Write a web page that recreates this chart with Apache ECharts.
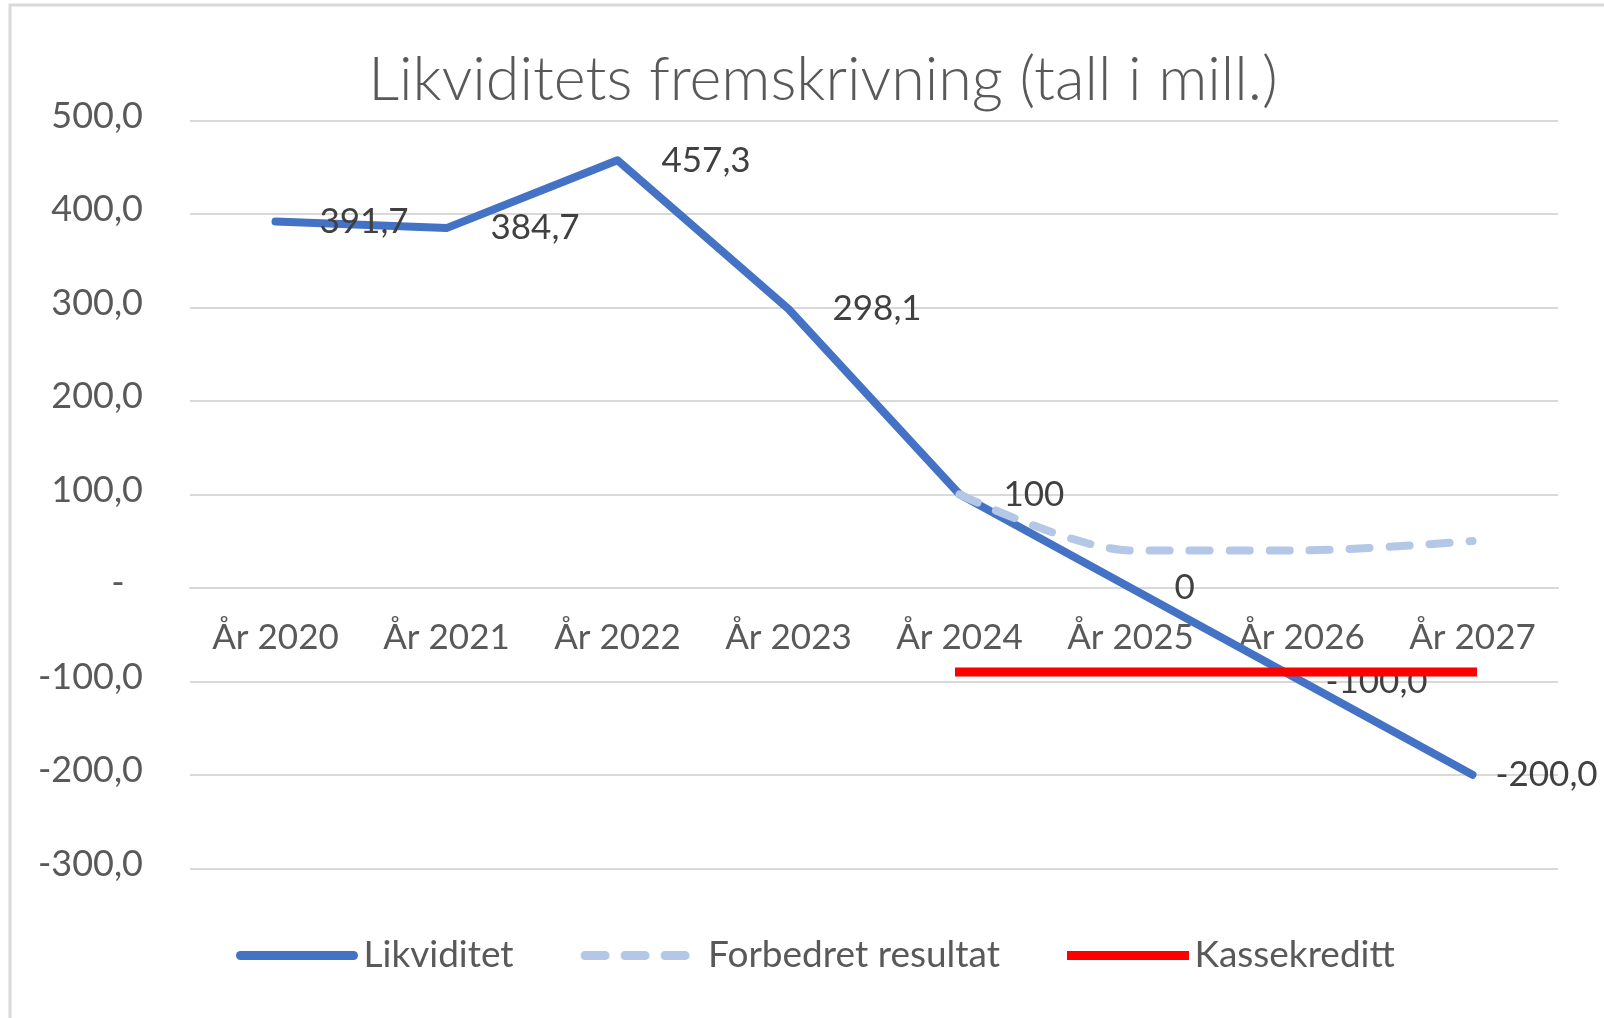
<!DOCTYPE html>
<html>
<head>
<meta charset="utf-8">
<script src="https://cdn.jsdelivr.net/npm/echarts@6/dist/echarts.min.js"></script>
<style>
  html, body { margin: 0; padding: 0; background: #ffffff; }
  #chart { width: 1604px; height: 1018px; }
</style>
</head>
<body>
<div id="chart"></div>
<script>
// ---- Data ----
const titleText = 'Likviditets fremskrivning (tall i mill.)';
const categories = ['År 2020', 'År 2021', 'År 2022', 'År 2023', 'År 2024', 'År 2025', 'År 2026', 'År 2027'];
const seriesNames = ['Likviditet', 'Forbedret resultat', 'Kassekreditt'];
const likviditet = [391.7, 384.7, 457.3, 298.1, 100, 0, -100, -200];
const likviditetLabels = ['391,7', '384,7', '457,3', '298,1', '100', '0', '-100,0', '-200,0'];
const forbedret = [null, null, null, null, 100, 40, 40, 50];
const kassekreditt = [null, null, null, null, -90, -90, -90, -90];
const yMin = -300, yMax = 500, yStep = 100;

function fmtY(v) {
  if (v === 0) return '-  ';
  return v.toFixed(1).replace('.', ',');
}

const FONT = 'Lato';
const GRID_TOP = 120.3, GRID_BOTTOM = 149.7, CHART_H = 1018;
const plotH = CHART_H - GRID_TOP - GRID_BOTTOM;
// x axis sits on the zero line: distance from bottom edge of plot to y=0
const zeroOffset = plotH * (0 - yMin) / (yMax - yMin);

const chart = echarts.init(document.getElementById('chart'), null, { renderer: 'canvas' });

chart.setOption({
  animation: false,
  backgroundColor: '#ffffff',
  graphic: [{
    type: 'rect',
    shape: { x: 10, y: 5, width: 1700, height: 1100 },
    style: { fill: 'none', stroke: '#d9d9d9', lineWidth: 3 },
    silent: true,
    z: -10
  }],
  title: {
    text: titleText,
    left: 818,
    textAlign: 'center',
    top: 45,
    textStyle: { fontFamily: FONT, fontWeight: 300, fontSize: 61, color: '#595959' }
  },
  grid: { left: 190, right: 46, top: GRID_TOP, bottom: GRID_BOTTOM, containLabel: false },
  legend: {
    data: seriesNames,
    left: 231,
    top: 932,
    itemWidth: 113,
    itemHeight: 10,
    itemGap: 67,
    itemStyle: { opacity: 0 },
    lineStyle: { width: 9 },
    textStyle: { fontFamily: FONT, fontSize: 37, color: '#595959', padding: [0, 0, 0, 5] }
  },
  xAxis: {
    type: 'category',
    data: categories,
    boundaryGap: true,
    offset: -zeroOffset,
    axisLine: { onZero: false, lineStyle: { color: '#d9d9d9', width: 2 } },
    axisTick: { show: false },
    axisLabel: { margin: 32, fontFamily: FONT, fontSize: 35, color: '#595959' },
    splitLine: { show: false }
  },
  yAxis: {
    type: 'value',
    min: yMin,
    max: yMax,
    interval: yStep,
    axisLine: { show: false },
    axisTick: { show: false },
    axisLabel: {
      margin: 47,
      fontFamily: FONT, fontSize: 36, color: '#595959',
      verticalAlign: 'bottom',
      lineHeight: 8,
      formatter: fmtY
    },
    splitLine: { lineStyle: { color: '#d9d9d9', width: 2 } }
  },
  series: [
    {
      name: seriesNames[0],
      type: 'line',
      data: likviditet,
      symbol: 'circle',
      symbolSize: 0,
      showSymbol: true,
      lineStyle: { color: '#4472c4', width: 8, cap: 'round', join: 'round' },
      itemStyle: { color: '#4472c4' },
      label: {
        show: true,
        position: 'right',
        distance: 44,
        offset: [0, -1],
        fontFamily: FONT, fontSize: 35, color: '#404040',
        formatter: p => likviditetLabels[p.dataIndex]
      },
      labelLayout: p => (p.dataIndex === 6 ? { dx: -20 } : p.dataIndex === 7 ? { dx: -21 } : {}),
      z: 2
    },
    {
      name: seriesNames[1],
      type: 'line',
      data: forbedret,
      symbol: 'none',
      smooth: 0.3,
      lineStyle: { color: '#b4c7e7', width: 8, type: [20, 20], cap: 'round', join: 'round' },
      itemStyle: { color: '#b4c7e7' },
      z: 3
    },
    {
      name: seriesNames[2],
      type: 'line',
      data: kassekreditt,
      symbol: 'none',
      lineStyle: { color: '#ff0000', width: 9, cap: 'square' },
      itemStyle: { color: '#ff0000' },
      z: 4
    }
  ]
});
</script>
</body>
</html>
